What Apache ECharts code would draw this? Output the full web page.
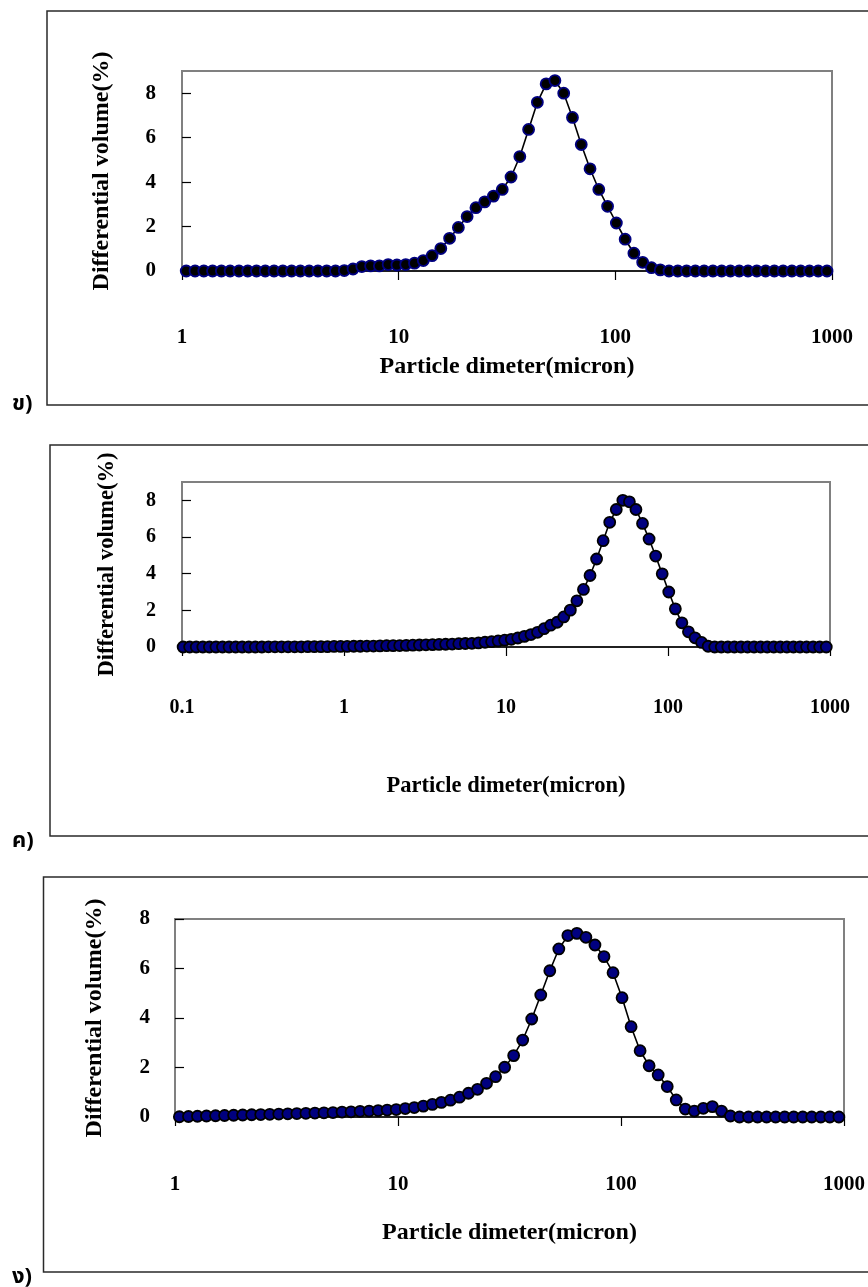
<!DOCTYPE html>
<html>
<head>
<meta charset="utf-8">
<script src="https://cdn.jsdelivr.net/npm/echarts@6/dist/echarts.min.js"></script>
<style>
html, body { margin: 0; padding: 0; background: #fff; }
#chart { width: 868px; height: 1287px; }
</style>
</head>
<body>
<div id="chart"></div>
<script>
// Particle size channels of the laser diffraction analyser (micron)
const diameters = [
  0.1016, 0.1115, 0.1224, 0.1344, 0.1476, 0.1620, 0.1778, 0.1952, 0.2143, 0.2352,
  0.2582, 0.2835, 0.3112, 0.3416, 0.3750, 0.4117, 0.4519, 0.4961, 0.5446, 0.5979,
  0.6563, 0.7205, 0.7909, 0.8682, 0.9532, 1.046, 1.149, 1.261, 1.384, 1.520,
  1.668, 1.832, 2.011, 2.207, 2.423, 2.660, 2.920, 3.205, 3.519, 3.863,
  4.240, 4.655, 5.110, 5.610, 6.158, 6.760, 7.421, 8.147, 8.943, 9.816,
  10.78, 11.83, 12.99, 14.26, 15.65, 17.18, 18.86, 20.70, 22.73, 24.95,
  27.39, 30.07, 33.01, 36.24, 39.78, 43.67, 47.94, 52.62, 57.77, 63.41,
  69.61, 76.42, 83.89, 92.09, 101.1, 111.0, 121.8, 133.7, 146.8, 161.2,
  176.9, 194.2, 213.2, 234.0, 256.9, 282.1, 309.6, 339.9, 373.1, 409.6,
  449.7, 493.6, 541.9, 594.9, 653.0, 716.9, 786.9, 863.9, 948.3
];

// Channels from 1.046 micron upward (samples ข and ง)
const diametersFrom1 = diameters.slice(25);

// Differential volume (%) of sample ข, channels 1.046 - 948.3 micron
const volumeB = [
  0, 0, 0, 0, 0, 0, 0, 0, 0, 0, 0, 0, 0, 0, 0, 0, 0, 0,
  0.02, 0.09, 0.20, 0.23, 0.23, 0.29, 0.27, 0.29, 0.35, 0.47,
  0.69, 1.01, 1.47, 1.96, 2.45, 2.85, 3.11, 3.37, 3.67, 4.23,
  5.15, 6.37, 7.59, 8.42, 8.57, 8.00, 6.91, 5.69, 4.60, 3.67,
  2.91, 2.16, 1.43, 0.80, 0.39, 0.15, 0.05,
  0, 0, 0, 0, 0, 0, 0, 0, 0, 0, 0, 0, 0, 0, 0, 0, 0, 0, 0
];

// Differential volume (%) of sample ค, channels 0.1016 - 948.3 micron
const volumeC = [
  0, 0, 0, 0, 0, 0, 0, 0, 0, 0, 0, 0, 0,
  0.01, 0.01, 0.01, 0.01, 0.01, 0.01,
  0.02, 0.02, 0.02, 0.02,
  0.03, 0.03, 0.03,
  0.04, 0.04, 0.05, 0.05, 0.06, 0.07, 0.07, 0.08, 0.09, 0.10,
  0.11, 0.12, 0.13, 0.14, 0.15, 0.16, 0.18, 0.19, 0.20, 0.22,
  0.26, 0.29, 0.33, 0.37, 0.42, 0.49, 0.58, 0.68, 0.80, 1.00,
  1.19, 1.35, 1.64, 2.01, 2.52, 3.14, 3.90, 4.80, 5.80, 6.80,
  7.50, 8.00, 7.92, 7.50, 6.74, 5.89, 4.96, 3.99, 3.00, 2.08,
  1.32, 0.83, 0.50, 0.25, 0.04,
  0, 0, 0, 0, 0, 0, 0, 0, 0, 0, 0, 0, 0, 0, 0, 0, 0, 0
];

// Differential volume (%) of sample ง, channels 1.046 - 948.3 micron
const volumeD = [
  0.01, 0.02, 0.03, 0.04, 0.05, 0.06, 0.07, 0.08, 0.09, 0.10,
  0.11, 0.12, 0.13, 0.14, 0.15, 0.16, 0.17, 0.18, 0.20, 0.21,
  0.23, 0.24, 0.26, 0.28, 0.30, 0.34, 0.38, 0.44, 0.51, 0.59,
  0.68, 0.80, 0.96,
  1.12, 1.36, 1.63, 2.01, 2.48, 3.11, 3.96, 4.93, 5.91, 6.79,
  7.33, 7.42, 7.26, 6.95, 6.48, 5.83, 4.82, 3.65, 2.68, 2.07,
  1.70, 1.23, 0.69, 0.32, 0.24, 0.35, 0.42, 0.24, 0.04,
  0, 0, 0, 0, 0, 0, 0, 0, 0, 0, 0, 0
];

// Axis ticks and texts
const xTicksB = [1, 10, 100, 1000];
const xTicksC = [0.1, 1, 10, 100, 1000];
const xTicksD = [1, 10, 100, 1000];
const yTicks = [0, 2, 4, 6, 8];
const xTitle = 'Particle dimeter(micron)';
const yTitle = 'Differential volume(%)';
const panelLabels = ['ข)', 'ค)', 'ง)'];

const serif = '"Liberation Serif", "Times New Roman", serif';

function pairs(xs, ys) {
  return xs.map((x, i) => [x, ys[i]]);
}

function xAxisFor(gridIndex, min, max, ticks, labelMargin, nameGap, labelSize, nameSize) {
  return {
    type: 'log', logBase: 10, gridIndex, min, max,
    name: xTitle, nameLocation: 'middle', nameGap,
    nameTextStyle: { fontFamily: serif, fontWeight: 'bold', fontSize: nameSize, color: '#000' },
    axisLine: { lineStyle: { color: '#000', width: 1.5 } },
    axisTick: { show: true, inside: false, length: 9, customValues: ticks,
                lineStyle: { color: '#000', width: 1.2 } },
    axisLabel: { customValues: ticks, margin: labelMargin,
                 fontFamily: serif, fontWeight: 'bold', fontSize: labelSize, color: '#000',
                 formatter: v => String(v) },
    splitLine: { show: false },
    minorTick: { show: false }
  };
}

function yAxisFor(gridIndex, max, labelMargin, nameGap, labelSize, nameSize) {
  return {
    type: 'value', gridIndex, min: 0, max, interval: 2,
    name: yTitle, nameLocation: 'middle', nameGap, nameRotate: 90,
    nameTextStyle: { fontFamily: serif, fontWeight: 'bold', fontSize: nameSize, color: '#000' },
    axisLine: { show: true, lineStyle: { color: '#808080', width: 2 } },
    axisTick: { show: true, inside: true, length: 9, customValues: yTicks,
                lineStyle: { color: '#000', width: 1.2 } },
    axisLabel: { customValues: yTicks, margin: labelMargin,
                 fontFamily: serif, fontWeight: 'bold', fontSize: labelSize, color: '#000' },
    splitLine: { show: false }
  };
}

function seriesFor(index, data, fill, border) {
  return {
    type: 'line', xAxisIndex: index, yAxisIndex: index,
    data, symbol: 'circle', symbolSize: 11, showSymbol: true, showAllSymbol: true,
    clip: false,
    lineStyle: { color: '#000', width: 1.6 },
    itemStyle: { color: fill, borderColor: border, borderWidth: 1.8 },
    emphasis: { disabled: true },
    z: 3
  };
}

function frame(x, y, h) {
  return { type: 'rect', silent: true, z: 0,
           shape: { x, y, width: 900, height: h },
           style: { fill: null, stroke: '#2a2a2a', lineWidth: 1.5 } };
}

function panelText(text, y) {
  return { type: 'text', silent: true, left: 12, top: y - 13,
           style: { text, fontSize: 22, fontWeight: 'bold',
                    fontFamily: '"Noto Sans Thai", "Noto Sans", "DejaVu Sans", sans-serif',
                    fill: '#000' } };
}

const chart = echarts.init(document.getElementById('chart'), null, { renderer: 'canvas' });

chart.setOption({
  animation: false,
  backgroundColor: '#fff',
  grid: [
    { left: 182, top: 71, width: 650, height: 200, show: true, borderColor: '#808080', borderWidth: 2, backgroundColor: 'transparent' },
    { left: 182, top: 482, width: 648, height: 165, show: true, borderColor: '#808080', borderWidth: 2, backgroundColor: 'transparent' },
    { left: 175, top: 919, width: 674, height: 198, show: true, borderColor: '#808080', borderWidth: 2, backgroundColor: 'transparent' }
  ],
  xAxis: [
    xAxisFor(0, 1, 1000, xTicksB, 56, 84, 21, 24),
    xAxisFor(1, 0.1, 1000, xTicksC, 51, 128, 20, 22.5),
    xAxisFor(2, 1, 1000, xTicksD, 57, 104, 21, 24)
  ],
  yAxis: [
    yAxisFor(0, 9, 26, 68, 21, 24),
    yAxisFor(1, 9, 26, 63, 20, 22.5),
    yAxisFor(2, 8, 25, 68, 21, 24)
  ],
  series: [
    seriesFor(0, pairs(diametersFrom1, volumeB), '#000000', '#000080'),
    seriesFor(1, pairs(diameters, volumeC), '#000080', '#000000'),
    seriesFor(2, pairs(diametersFrom1, volumeD), '#000080', '#000000')
  ],
  graphic: [
    frame(47, 11, 394),
    frame(50, 445, 391),
    frame(43.5, 877, 395),
    panelText(panelLabels[0], 408),
    panelText(panelLabels[1], 845),
    panelText(panelLabels[2], 1281)
  ]
});
</script>
</body>
</html>
